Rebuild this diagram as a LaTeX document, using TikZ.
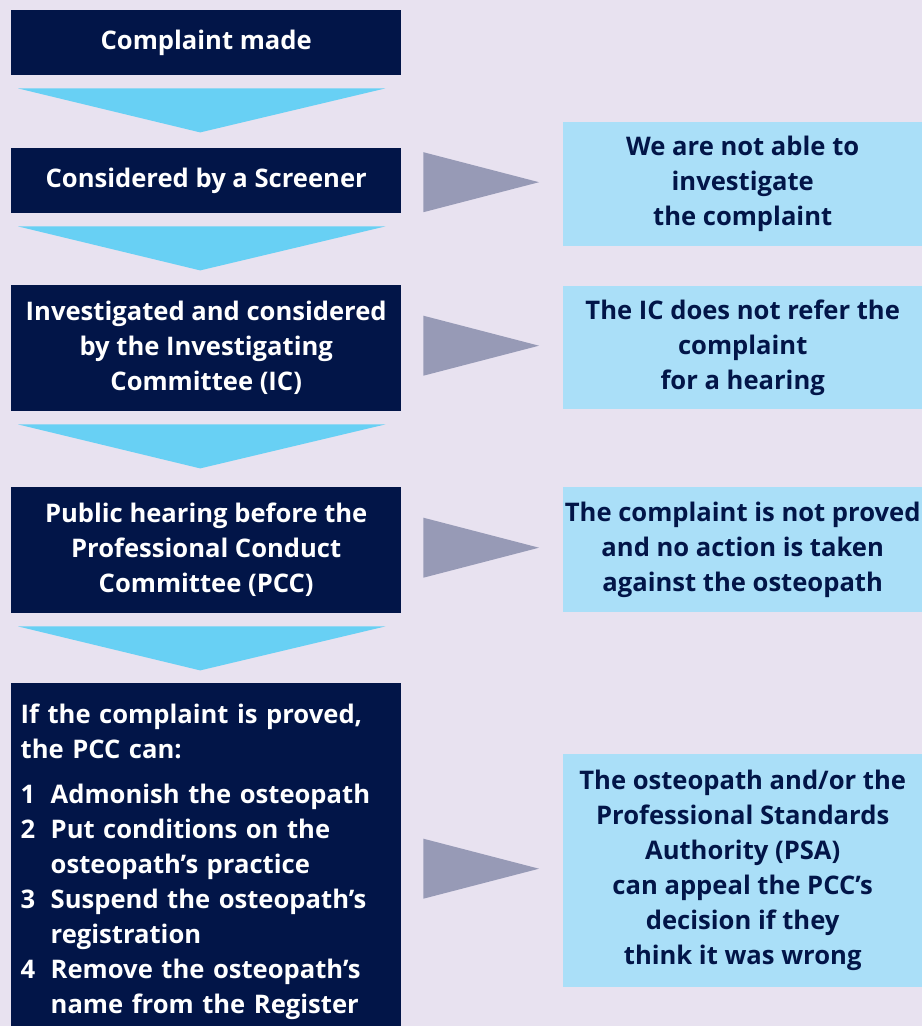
\documentclass[tikz,border=0pt]{standalone}
\usepackage{fontspec}
\setmainfont{Open Sans}
\usetikzlibrary{calc}

\definecolor{navy}{RGB}{2,21,72}
\definecolor{lavender}{RGB}{232,226,240}
\definecolor{paleblue}{RGB}{170,223,248}
\definecolor{skyblue}{RGB}{104,208,244}
\definecolor{slate}{RGB}{151,154,182}

\tikzset{
  stage/.style={rectangle, fill=navy, text=white, anchor=north west, inner sep=0pt,
    minimum width=390pt, align=center, font=\bfseries\fontsize{25.6}{35}\selectfont},
  outcome/.style={rectangle, fill=paleblue, text=navy, anchor=north west, inner sep=0pt,
    minimum width=359pt, align=center, font=\bfseries\fontsize{25.6}{35}\selectfont},
  downtri/.style={fill=skyblue},
  sidetri/.style={fill=slate}
}

\begin{document}
\begin{tikzpicture}[x=1pt, y=-1pt]
	\path[use as bounding box, fill=lavender] (0,0) rectangle (922,1026);

	% left column
	\node [stage, minimum height=65pt] (made) at (11,10) {Complaint made};
	\node [stage, minimum height=65pt] (screen) at (11,148) {Considered by a Screener};
	\node [stage, minimum height=126pt] (ic) at (11,285)
		{Investigated and considered\\by the Investigating\\Committee (IC)};
	\node [stage, minimum height=126pt] (pcc) at (11,487)
		{Public hearing before the\\Professional Conduct\\Committee (PCC)};
	\node [stage, minimum height=358pt, align=left, text width=371pt, inner xsep=9.5pt] (powers) at (11,683)
		{If the complaint is proved,\\the PCC can:\\[10pt]
		 \makebox[30pt][l]{1}Admonish the osteopath\\
		 \makebox[30pt][l]{2}Put conditions on the\\
		 \hspace*{30pt}osteopath’s practice\\
		 \makebox[30pt][l]{3}Suspend the osteopath’s\\
		 \hspace*{30pt}registration\\
		 \makebox[30pt][l]{4}Remove the osteopath’s\\
		 \hspace*{30pt}name from the Register};

	% right column
	\node [outcome, minimum height=124pt] (noinv) at (563,122)
		{We are not able to\\investigate\\the complaint};
	\node [outcome, minimum height=123pt] (noref) at (563,286)
		{The IC does not refer the\\complaint\\for a hearing};
	\node [outcome, minimum height=125pt] (noproof) at (563,487)
		{The complaint is not proved\\and no action is taken\\against the osteopath};
	\node [outcome, minimum height=233pt] (appeal) at (563,754)
		{The osteopath and/or the\\Professional Standards\\Authority (PSA)\\can appeal the PCC’s\\decision if they\\think it was wrong};

	% arrows down
	\foreach \a in {made, screen, ic, pcc}
		\fill[downtri] ($(\a.south west)+(7,13)$) -- ($(\a.south east)+(-16,13)$)
			-- ($(\a.south)+(-6,57)$) -- cycle;

	% arrows across
	\foreach \a/\b in {screen/noinv, ic/noref, pcc/noproof, powers/appeal}
		\fill[sidetri] ($(\a.east |- \b.west)+(22,-32)$) -- ($(\a.east |- \b.west)+(22,28)$)
			-- ($(\b.west)+(-24,-2)$) -- cycle;
\end{tikzpicture}
\end{document}
